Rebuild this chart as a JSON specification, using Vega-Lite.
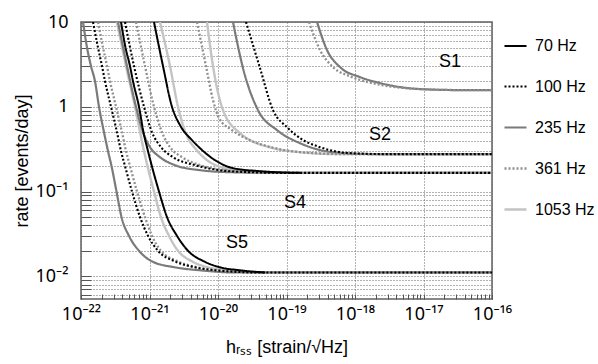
{
  "$schema": "https://vega.github.io/schema/vega-lite/v6.json",
  "width": 411,
  "height": 277,
  "autosize": {"type": "none"},
  "padding": {"left": 81, "top": 22, "right": 106, "bottom": 65},
  "background": "white",
  "config": {"font": "Liberation Sans", "view": {"stroke": "#606060", "strokeWidth": 1.5}},
  "data": {"values": [
    {"run":"S5","freq":"1053 Hz","h":3.354e-22,"rate":10},{"run":"S5","freq":"1053 Hz","h":4.54e-22,"rate":3.02},{"run":"S5","freq":"1053 Hz","h":6.143e-22,"rate":1.0},{"run":"S5","freq":"1053 Hz","h":8.313e-22,"rate":0.3},{"run":"S5","freq":"1053 Hz","h":1.163e-21,"rate":0.1},{"run":"S5","freq":"1053 Hz","h":1.472e-21,"rate":0.05},{"run":"S5","freq":"1053 Hz","h":1.926e-21,"rate":0.03},{"run":"S5","freq":"1053 Hz","h":2.607e-21,"rate":0.02},{"run":"S5","freq":"1053 Hz","h":4.173e-21,"rate":0.015},{"run":"S5","freq":"1053 Hz","h":7.145e-21,"rate":0.01277},{"run":"S5","freq":"1053 Hz","h":1.497e-20,"rate":0.01178},{"run":"S5","freq":"1053 Hz","h":4.103e-20,"rate":0.0111},{"run":"S5","freq":"1053 Hz","h":1e-16,"rate":0.0111},
    {"run":"S4","freq":"1053 Hz","h":1.423e-21,"rate":10},{"run":"S4","freq":"1053 Hz","h":1.992e-21,"rate":3.02},{"run":"S4","freq":"1053 Hz","h":2.607e-21,"rate":1.0},{"run":"S4","freq":"1053 Hz","h":3.084e-21,"rate":0.607},{"run":"S4","freq":"1053 Hz","h":3.773e-21,"rate":0.404},{"run":"S4","freq":"1053 Hz","h":4.616e-21,"rate":0.325},{"run":"S4","freq":"1053 Hz","h":6.909e-21,"rate":0.2345},{"run":"S4","freq":"1053 Hz","h":1.265e-20,"rate":0.1887},{"run":"S4","freq":"1053 Hz","h":2.932e-20,"rate":0.1739},{"run":"S4","freq":"1053 Hz","h":1.125e-19,"rate":0.166},{"run":"S4","freq":"1053 Hz","h":1e-16,"rate":0.166},
    {"run":"S2","freq":"1053 Hz","h":6.909e-21,"rate":10},{"run":"S2","freq":"1053 Hz","h":8.453e-21,"rate":3.02},{"run":"S2","freq":"1053 Hz","h":1.183e-20,"rate":0.913},{"run":"S2","freq":"1053 Hz","h":2.095e-20,"rate":0.489},{"run":"S2","freq":"1053 Hz","h":6.353e-20,"rate":0.325},{"run":"S2","freq":"1053 Hz","h":1.574e-19,"rate":0.2914},{"run":"S2","freq":"1053 Hz","h":6.039e-19,"rate":0.276},{"run":"S2","freq":"1053 Hz","h":1e-16,"rate":0.276},
    {"run":"S5","freq":"235 Hz","h":1.07e-22,"rate":10},{"run":"S5","freq":"235 Hz","h":1.224e-22,"rate":5},{"run":"S5","freq":"235 Hz","h":1.40e-22,"rate":3.02},{"run":"S5","freq":"235 Hz","h":1.601e-22,"rate":2.0},{"run":"S5","freq":"235 Hz","h":1.831e-22,"rate":1.0},{"run":"S5","freq":"235 Hz","h":2.167e-22,"rate":0.5},{"run":"S5","freq":"235 Hz","h":2.479e-22,"rate":0.3},{"run":"S5","freq":"235 Hz","h":2.788e-22,"rate":0.2},{"run":"S5","freq":"235 Hz","h":3.298e-22,"rate":0.1},{"run":"S5","freq":"235 Hz","h":3.902e-22,"rate":0.05},{"run":"S5","freq":"235 Hz","h":5.021e-22,"rate":0.03},{"run":"S5","freq":"235 Hz","h":7.027e-22,"rate":0.02},{"run":"S5","freq":"235 Hz","h":1.088e-21,"rate":0.015},{"run":"S5","freq":"235 Hz","h":2.357e-21,"rate":0.01277},{"run":"S5","freq":"235 Hz","h":5.46e-21,"rate":0.01178},{"run":"S5","freq":"235 Hz","h":1.771e-20,"rate":0.0111},{"run":"S5","freq":"235 Hz","h":1e-16,"rate":0.0111},
    {"run":"S4","freq":"235 Hz","h":3.469e-22,"rate":10},{"run":"S4","freq":"235 Hz","h":4.695e-22,"rate":3.02},{"run":"S4","freq":"235 Hz","h":6.353e-22,"rate":1.0},{"run":"S4","freq":"235 Hz","h":8.038e-22,"rate":0.5},{"run":"S4","freq":"235 Hz","h":1.017e-21,"rate":0.334},{"run":"S4","freq":"235 Hz","h":1.423e-21,"rate":0.2544},{"run":"S4","freq":"235 Hz","h":2.357e-21,"rate":0.2047},{"run":"S4","freq":"235 Hz","h":5.46e-21,"rate":0.1787},{"run":"S4","freq":"235 Hz","h":1.497e-20,"rate":0.1692},{"run":"S4","freq":"235 Hz","h":8.038e-20,"rate":0.166},{"run":"S4","freq":"235 Hz","h":1e-16,"rate":0.166},
    {"run":"S2","freq":"235 Hz","h":1.656e-20,"rate":10},{"run":"S2","freq":"235 Hz","h":2.317e-20,"rate":2.86},{"run":"S2","freq":"235 Hz","h":3.836e-20,"rate":0.913},{"run":"S2","freq":"235 Hz","h":7.267e-20,"rate":0.53},{"run":"S2","freq":"235 Hz","h":1.574e-19,"rate":0.3723},{"run":"S2","freq":"235 Hz","h":4.774e-19,"rate":0.2914},{"run":"S2","freq":"235 Hz","h":2.317e-18,"rate":0.276},{"run":"S2","freq":"235 Hz","h":1e-16,"rate":0.276},
    {"run":"S1","freq":"235 Hz","h":2.788e-19,"rate":10},{"run":"S1","freq":"235 Hz","h":3.902e-19,"rate":4.67},{"run":"S1","freq":"235 Hz","h":6.039e-19,"rate":2.94},{"run":"S1","freq":"235 Hz","h":1.183e-18,"rate":2.24},{"run":"S1","freq":"235 Hz","h":2.317e-18,"rate":1.904},{"run":"S1","freq":"235 Hz","h":4.54e-18,"rate":1.708},{"run":"S1","freq":"235 Hz","h":8.891e-18,"rate":1.617},{"run":"S1","freq":"235 Hz","h":3.411e-17,"rate":1.574},{"run":"S1","freq":"235 Hz","h":1e-16,"rate":1.574},
    {"run":"S5","freq":"361 Hz","h":1.771e-22,"rate":10},{"run":"S5","freq":"361 Hz","h":2.095e-22,"rate":5},{"run":"S5","freq":"361 Hz","h":2.397e-22,"rate":3.02},{"run":"S5","freq":"361 Hz","h":2.651e-22,"rate":2.0},{"run":"S5","freq":"361 Hz","h":3.243e-22,"rate":1.0},{"run":"S5","freq":"361 Hz","h":3.968e-22,"rate":0.5},{"run":"S5","freq":"361 Hz","h":4.54e-22,"rate":0.3},{"run":"S5","freq":"361 Hz","h":5.193e-22,"rate":0.2},{"run":"S5","freq":"361 Hz","h":6.57e-22,"rate":0.1},{"run":"S5","freq":"361 Hz","h":8.597e-22,"rate":0.05},{"run":"S5","freq":"361 Hz","h":1.088e-21,"rate":0.03},{"run":"S5","freq":"361 Hz","h":1.472e-21,"rate":0.02},{"run":"S5","freq":"361 Hz","h":2.607e-21,"rate":0.015},{"run":"S5","freq":"361 Hz","h":4.937e-21,"rate":0.01277},{"run":"S5","freq":"361 Hz","h":9.669e-21,"rate":0.01178},{"run":"S5","freq":"361 Hz","h":4.854e-20,"rate":0.0111},{"run":"S5","freq":"361 Hz","h":1e-16,"rate":0.0111},
    {"run":"S4","freq":"361 Hz","h":6.353e-22,"rate":10},{"run":"S4","freq":"361 Hz","h":8.597e-22,"rate":3.02},{"run":"S4","freq":"361 Hz","h":1.163e-21,"rate":1.0},{"run":"S4","freq":"361 Hz","h":1.522e-21,"rate":0.5},{"run":"S4","freq":"361 Hz","h":1.992e-21,"rate":0.334},{"run":"S4","freq":"361 Hz","h":2.982e-21,"rate":0.2544},{"run":"S4","freq":"361 Hz","h":5.46e-21,"rate":0.2047},{"run":"S4","freq":"361 Hz","h":1.265e-20,"rate":0.1787},{"run":"S4","freq":"361 Hz","h":3.467e-20,"rate":0.1692},{"run":"S4","freq":"361 Hz","h":1.574e-19,"rate":0.166},{"run":"S4","freq":"361 Hz","h":1e-16,"rate":0.166},
    {"run":"S2","freq":"361 Hz","h":4.937e-21,"rate":10},{"run":"S2","freq":"361 Hz","h":6.68e-21,"rate":3.02},{"run":"S2","freq":"361 Hz","h":8.453e-21,"rate":1.2},{"run":"S2","freq":"361 Hz","h":1.034e-20,"rate":0.735},{"run":"S2","freq":"361 Hz","h":1.601e-20,"rate":0.53},{"run":"S2","freq":"361 Hz","h":2.932e-20,"rate":0.404},{"run":"S2","freq":"361 Hz","h":6.795e-20,"rate":0.325},{"run":"S2","freq":"361 Hz","h":1.574e-19,"rate":0.2914},{"run":"S2","freq":"361 Hz","h":8.453e-19,"rate":0.276},{"run":"S2","freq":"361 Hz","h":1e-16,"rate":0.276},
    {"run":"S1","freq":"361 Hz","h":2.13e-19,"rate":10},{"run":"S1","freq":"361 Hz","h":3.084e-19,"rate":4.67},{"run":"S1","freq":"361 Hz","h":4.774e-19,"rate":2.94},{"run":"S1","freq":"361 Hz","h":9.041e-19,"rate":2.24},{"run":"S1","freq":"361 Hz","h":1.771e-18,"rate":1.904},{"run":"S1","freq":"361 Hz","h":3.837e-18,"rate":1.708},{"run":"S1","freq":"361 Hz","h":8.891e-18,"rate":1.617},{"run":"S1","freq":"361 Hz","h":3.411e-17,"rate":1.574},{"run":"S1","freq":"361 Hz","h":1e-16,"rate":1.574},
    {"run":"S5","freq":"100 Hz","h":1.497e-22,"rate":10},{"run":"S5","freq":"100 Hz","h":1.771e-22,"rate":5},{"run":"S5","freq":"100 Hz","h":2.026e-22,"rate":3.02},{"run":"S5","freq":"100 Hz","h":2.241e-22,"rate":2.0},{"run":"S5","freq":"100 Hz","h":2.742e-22,"rate":1.0},{"run":"S5","freq":"100 Hz","h":3.354e-22,"rate":0.5},{"run":"S5","freq":"100 Hz","h":3.837e-22,"rate":0.3},{"run":"S5","freq":"100 Hz","h":4.389e-22,"rate":0.2},{"run":"S5","freq":"100 Hz","h":5.554e-22,"rate":0.1},{"run":"S5","freq":"100 Hz","h":7.267e-22,"rate":0.05},{"run":"S5","freq":"100 Hz","h":9.509e-22,"rate":0.03},{"run":"S5","freq":"100 Hz","h":1.331e-21,"rate":0.02},{"run":"S5","freq":"100 Hz","h":2.357e-21,"rate":0.015},{"run":"S5","freq":"100 Hz","h":4.616e-21,"rate":0.01277},{"run":"S5","freq":"100 Hz","h":9.041e-21,"rate":0.01178},{"run":"S5","freq":"100 Hz","h":4.103e-20,"rate":0.0111},{"run":"S5","freq":"100 Hz","h":1e-16,"rate":0.0111},
    {"run":"S4","freq":"100 Hz","h":4.389e-22,"rate":10},{"run":"S4","freq":"100 Hz","h":5.94e-22,"rate":3.02},{"run":"S4","freq":"100 Hz","h":8.313e-22,"rate":1.0},{"run":"S4","freq":"100 Hz","h":1.088e-21,"rate":0.5},{"run":"S4","freq":"100 Hz","h":1.472e-21,"rate":0.334},{"run":"S4","freq":"100 Hz","h":2.203e-21,"rate":0.2544},{"run":"S4","freq":"100 Hz","h":4.616e-21,"rate":0.2047},{"run":"S4","freq":"100 Hz","h":1.07e-20,"rate":0.1787},{"run":"S4","freq":"100 Hz","h":2.932e-20,"rate":0.1692},{"run":"S4","freq":"100 Hz","h":1.125e-19,"rate":0.166},{"run":"S4","freq":"100 Hz","h":1e-16,"rate":0.166},
    {"run":"S2","freq":"100 Hz","h":2.563e-20,"rate":10},{"run":"S2","freq":"100 Hz","h":4.103e-20,"rate":2.86},{"run":"S2","freq":"100 Hz","h":6.353e-20,"rate":0.913},{"run":"S2","freq":"100 Hz","h":1.017e-19,"rate":0.575},{"run":"S2","freq":"100 Hz","h":1.574e-19,"rate":0.4266},{"run":"S2","freq":"100 Hz","h":3.084e-19,"rate":0.334},{"run":"S2","freq":"100 Hz","h":8.453e-19,"rate":0.2836},{"run":"S2","freq":"100 Hz","h":3.243e-18,"rate":0.276},{"run":"S2","freq":"100 Hz","h":1e-16,"rate":0.276},
    {"run":"S5","freq":"70 Hz","h":3.837e-22,"rate":10},{"run":"S5","freq":"70 Hz","h":4.464e-22,"rate":5},{"run":"S5","freq":"70 Hz","h":5.193e-22,"rate":3.02},{"run":"S5","freq":"70 Hz","h":5.74e-22,"rate":2.0},{"run":"S5","freq":"70 Hz","h":7.027e-22,"rate":1.0},{"run":"S5","freq":"70 Hz","h":8.175e-22,"rate":0.5},{"run":"S5","freq":"70 Hz","h":9.509e-22,"rate":0.3},{"run":"S5","freq":"70 Hz","h":1.376e-21,"rate":0.1},{"run":"S5","freq":"70 Hz","h":1.801e-21,"rate":0.05},{"run":"S5","freq":"70 Hz","h":2.521e-21,"rate":0.03},{"run":"S5","freq":"70 Hz","h":3.648e-21,"rate":0.02},{"run":"S5","freq":"70 Hz","h":6.245e-21,"rate":0.015},{"run":"S5","freq":"70 Hz","h":1.07e-20,"rate":0.01277},{"run":"S5","freq":"70 Hz","h":2.095e-20,"rate":0.01178},{"run":"S5","freq":"70 Hz","h":4.854e-20,"rate":0.0111},
    {"run":"S4","freq":"70 Hz","h":1.163e-21,"rate":10},{"run":"S4","freq":"70 Hz","h":1.574e-21,"rate":3.02},{"run":"S4","freq":"70 Hz","h":2.13e-21,"rate":1.0},{"run":"S4","freq":"70 Hz","h":2.788e-21,"rate":0.607},{"run":"S4","freq":"70 Hz","h":4.173e-21,"rate":0.404},{"run":"S4","freq":"70 Hz","h":5.46e-21,"rate":0.325},{"run":"S4","freq":"70 Hz","h":9.041e-21,"rate":0.2345},{"run":"S4","freq":"70 Hz","h":1.656e-20,"rate":0.1887},{"run":"S4","freq":"70 Hz","h":4.103e-20,"rate":0.1739},{"run":"S4","freq":"70 Hz","h":1.574e-19,"rate":0.166}
  ]},
  "layer": [
    {
      "mark": {"type": "line", "clip": true, "interpolate": "monotone"},
      "encoding": {
        "x": {"field": "h", "type": "quantitative", "title": "hᵣₛₛ [strain/√Hz]",
          "scale": {"type": "log", "domain": [1e-22, 1e-16], "nice": false},
          "axis": {
            "values": [1e-22,2e-22,3e-22,4e-22,5e-22,6e-22,7e-22,8e-22,9e-22,1e-21,2e-21,3e-21,4e-21,5e-21,6e-21,7e-21,8e-21,9e-21,1e-20,2e-20,3e-20,4e-20,5e-20,6e-20,7e-20,8e-20,9e-20,1e-19,2e-19,3e-19,4e-19,5e-19,6e-19,7e-19,8e-19,9e-19,1e-18,2e-18,3e-18,4e-18,5e-18,6e-18,7e-18,8e-18,9e-18,1e-17,2e-17,3e-17,4e-17,5e-17,6e-17,7e-17,8e-17,9e-17,1e-16],
            "labelExpr": "datum.value == 1e-22 ? '10⁻²²' : datum.value == 1e-21 ? '10⁻²¹' : datum.value == 1e-20 ? '10⁻²⁰' : datum.value == 1e-19 ? '10⁻¹⁹' : datum.value == 1e-18 ? '10⁻¹⁸' : datum.value == 1e-17 ? '10⁻¹⁷' : datum.value == 1e-16 ? '10⁻¹⁶' : ''",
            "grid": true, "gridDash": [1, 2], "gridColor": "#666", "gridWidth": 1,
            "gridOpacity": {"condition": {"test": "indexof([1e-22,1e-21,1e-20,1e-19,1e-18,1e-17,1e-16], datum.value) >= 0", "value": 1}, "value": 0},
            "tickSize": -5, "tickColor": "#555", "tickWidth": 1, "domain": false,
            "labelPadding": 11, "labelFontSize": 18, "labelFont": "Noto Sans", "labelColor": "black", "labelFlush": false, "labelOverlap": false,
            "titleFontSize": 18, "titleFontWeight": "normal", "titleColor": "black", "titleY": 53, "titleBaseline": "alphabetic"
          }
        },
        "y": {"field": "rate", "type": "quantitative", "title": "rate [events/day]",
          "scale": {"type": "log", "domain": [0.0054, 10], "nice": false},
          "axis": {
            "values": [0.006,0.007,0.008,0.009,0.01,0.02,0.03,0.04,0.05,0.06,0.07,0.08,0.09,0.1,0.2,0.3,0.4,0.5,0.6,0.7,0.8,0.9,1,2,3,4,5,6,7,8,9,10],
            "labelExpr": "datum.value == 10 ? '10' : datum.value == 1 ? '1' : datum.value == 0.1 ? '10⁻¹' : datum.value == 0.01 ? '10⁻²' : ''",
            "grid": true, "gridDash": [1, 2], "gridColor": "#666", "gridWidth": 1,
            "tickSize": -10, "tickColor": "#555", "tickWidth": 1, "domain": false,
            "labelPadding": 23, "labelFontSize": 18, "labelFont": "Noto Sans", "labelColor": "black", "labelFlush": false, "labelOverlap": false,
            "titleFontSize": 18, "titleFontWeight": "normal", "titleColor": "black", "titleX": -54, "titleY": 138.5, "titleBaseline": "alphabetic", "titleAlign": "center"
          }
        },
        "color": {"field": "freq", "type": "nominal",
          "scale": {"domain": ["70 Hz", "100 Hz", "235 Hz", "361 Hz", "1053 Hz"], "range": ["#000000", "#000000", "#7a7a7a", "#8f8f8f", "#c4c4c4"]},
          "legend": {"title": null, "orient": "none", "legendX": 422, "legendY": 12, "symbolType": "stroke", "symbolSize": 484, "symbolStrokeWidth": 2, "labelFontSize": 16, "labelColor": "black", "rowPadding": 20, "labelOffset": 7}
        },
        "strokeDash": {"field": "freq", "type": "nominal",
          "scale": {"domain": ["70 Hz", "100 Hz", "235 Hz", "361 Hz", "1053 Hz"], "range": [[1, 0], [2, 2], [1, 0], [2, 2], [1, 0]]},
          "legend": {"title": null, "orient": "none", "legendX": 422, "legendY": 12, "symbolType": "stroke", "symbolSize": 484, "symbolStrokeWidth": 2, "labelFontSize": 16, "labelColor": "black", "rowPadding": 20, "labelOffset": 7}
        },
        "strokeWidth": {"field": "freq", "type": "ordinal",
          "scale": {"domain": ["70 Hz", "100 Hz", "235 Hz", "361 Hz", "1053 Hz"], "range": [2, 2.4, 2.5, 2, 2]},
          "legend": null
        },
        "detail": {"field": "run"}
      }
    },
    {
      "data": {"values": [
        {"label": "S1", "h": 2.44e-17, "rate": 3.37},
        {"label": "S2", "h": 2.32e-18, "rate": 0.463},
        {"label": "S4", "h": 1.33e-19, "rate": 0.0728},
        {"label": "S5", "h": 1.89e-20, "rate": 0.0246}
      ]},
      "mark": {"type": "text", "fontSize": 18, "align": "center", "baseline": "middle", "color": "black"},
      "encoding": {
        "x": {"field": "h", "type": "quantitative", "title": "hᵣₛₛ [strain/√Hz]"},
        "y": {"field": "rate", "type": "quantitative", "title": "rate [events/day]"},
        "text": {"field": "label"}
      }
    }
  ]
}
